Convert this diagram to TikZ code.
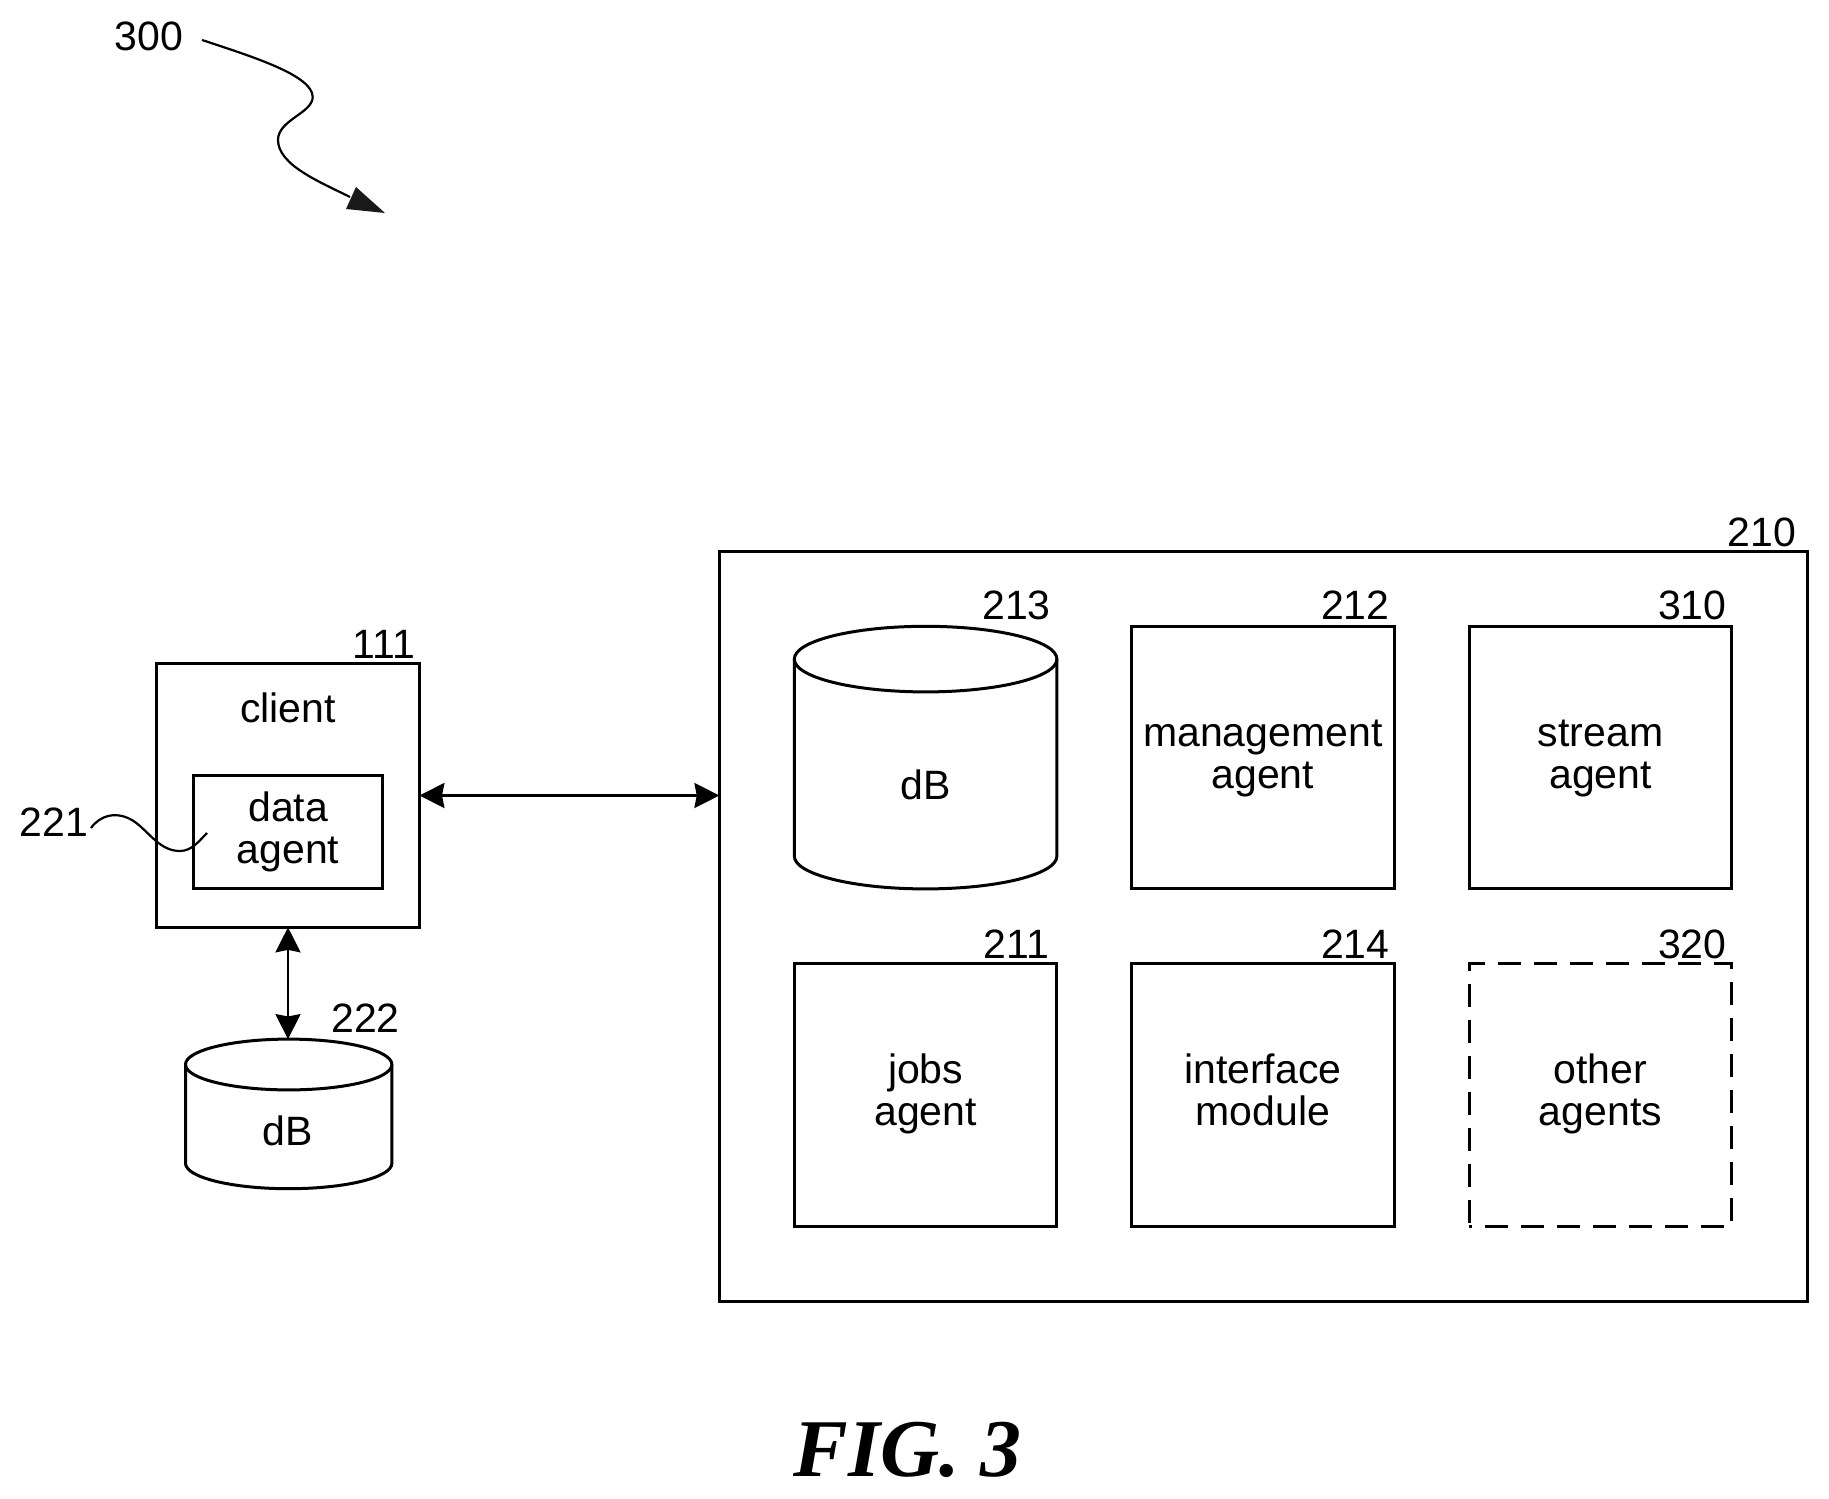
\documentclass[tikz,border=0pt]{standalone}
\usepackage{fontspec}
\setmainfont{Liberation Sans}
\newfontfamily\figfont{Liberation Serif}
\usetikzlibrary{arrows.meta}
\newcommand{\ls}{\rule[-5.35pt]{0pt}{20.9pt}}
\tikzset{
  x=0.5pt,y=-0.5pt,
  boxline/.style={draw=black,line width=1.5pt,rectangle,inner sep=0pt,outer sep=0pt},
  agentbox/.style={boxline,minimum width=131.3pt,minimum height=131.3pt},
  lbl/.style={inner sep=0pt,outer sep=0pt,font=\fontsize{20.5}{21}\selectfont,align=center},
  biarrow/.style={line width=1.2pt,{Stealth[length=12.5pt,width=12.5pt,inset=1.2pt]}-{Stealth[length=12.5pt,width=12.5pt,inset=1.2pt]}},
  leader/.style={line width=1.1pt},
  cylbox/.style={rectangle,draw=none,inner sep=0pt,outer sep=0pt}
}
\newcommand{\dbcyl}[3]{%
  \draw[line width=1.5pt] ([yshift=-#3pt]#1.north) ellipse [x radius=#2pt,y radius=#3pt];
  \draw[line width=1.5pt] ([yshift=-#3pt]#1.north west) -- ([yshift=#3pt]#1.south west)
     arc[start angle=180,end angle=360,x radius=#2pt,y radius=#3pt] -- ([yshift=-#3pt]#1.north east);
}
\begin{document}
\begin{tikzpicture}
\useasboundingbox (0,0) rectangle (1829,1498);
\fill[white] (0,0) rectangle (1829,1498);

% server
\node[boxline,minimum width=543.8pt,minimum height=375pt] (srv) at (1263.2,926) {};
\node[cylbox,minimum width=131.3pt,minimum height=131.3pt] (db213) at (925.6,757.6) {};
\dbcyl{db213}{65.65}{16.4}
\node[lbl] (db213t) at (925.6,785) {dB};
\node[agentbox,lbl] (a212) at (1262.8,757.6) {\ls management\\\ls agent};
\node[agentbox,lbl] (a310) at (1600.5,757.6) {\ls stream\\\ls agent};
\node[agentbox,lbl] (a211) at (925.6,1094.7) {\ls jobs\\\ls agent};
\node[agentbox,lbl] (a214) at (1262.8,1094.7) {\ls interface\\\ls module};
\node[agentbox,lbl,dashed,dash pattern=on 11.5pt off 6.5pt,dash phase=10pt] (a320) at (1600.5,1094.7) {\ls other\\\ls agents};

% client
\node[boxline,minimum width=131.4pt,minimum height=131.8pt] (client) at (288,795.5) {};
\node[lbl] (clientt) at (288,708) {client};
\node[boxline,lbl,minimum width=94.5pt,minimum height=56.5pt] (dagent) at (288.1,832.3) {\ls data\\\ls agent};
\node[cylbox,minimum width=103.2pt,minimum height=74.8pt] (db222) at (288.7,1113.9) {};
\dbcyl{db222}{51.6}{12.7}
\node[lbl] (db222t) at (288,1131) {dB};

% connectors
\draw[biarrow] (client.east) -- (client.east -| srv.west);
\draw[biarrow] (client.south) -- (client.south |- db222.north);

% reference numerals
\node[lbl] (n300) at (149.2,36) {300};
\node[lbl] (n111) at (384,644) {111};
\node[lbl] (n210) at (1762,532) {210};
\node[lbl] (n213) at (1016.5,605) {213};
\node[lbl] (n212) at (1355.2,605) {212};
\node[lbl] (n310) at (1692.2,605) {310};
\node[lbl] (n211) at (1016.5,944) {211};
\node[lbl] (n214) at (1355.2,944) {214};
\node[lbl] (n320) at (1692.2,944) {320};
\node[lbl] (n221) at (53.7,822) {221};
\node[lbl] (n222) at (365.5,1018) {222};

% wavy leaders
\coordinate (s300) at (202,40);
\coordinate (e300) at (350,197);
\draw[leader] (s300) .. controls (250,56) and (312.7,75) .. (312.7,97)
   .. controls (312.7,113) and (278,120) .. (278,140)
   .. controls (278,165) and (320,182) .. (e300);
\coordinate (h1) at (385,213);
\coordinate (h2) at (356,187);
\coordinate (h3) at (346,209);
\fill[black!90] (h1) -- (h2) -- (h3) -- cycle;

\coordinate (s221) at (91,828);
\coordinate (e221) at (207,833);
\draw[leader] (s221) .. controls (100,815) and (118,810) .. (135,822)
   .. controls (150,833) and (160,851) .. (180,851)
   .. controls (192,851) and (200,840) .. (e221);

% caption
\node[inner sep=0pt,outer sep=0pt,font=\figfont\bfseries\itshape\fontsize{41}{44}\selectfont] (fig) at (907.5,1450) {FIG. 3};
\end{tikzpicture}
\end{document}
